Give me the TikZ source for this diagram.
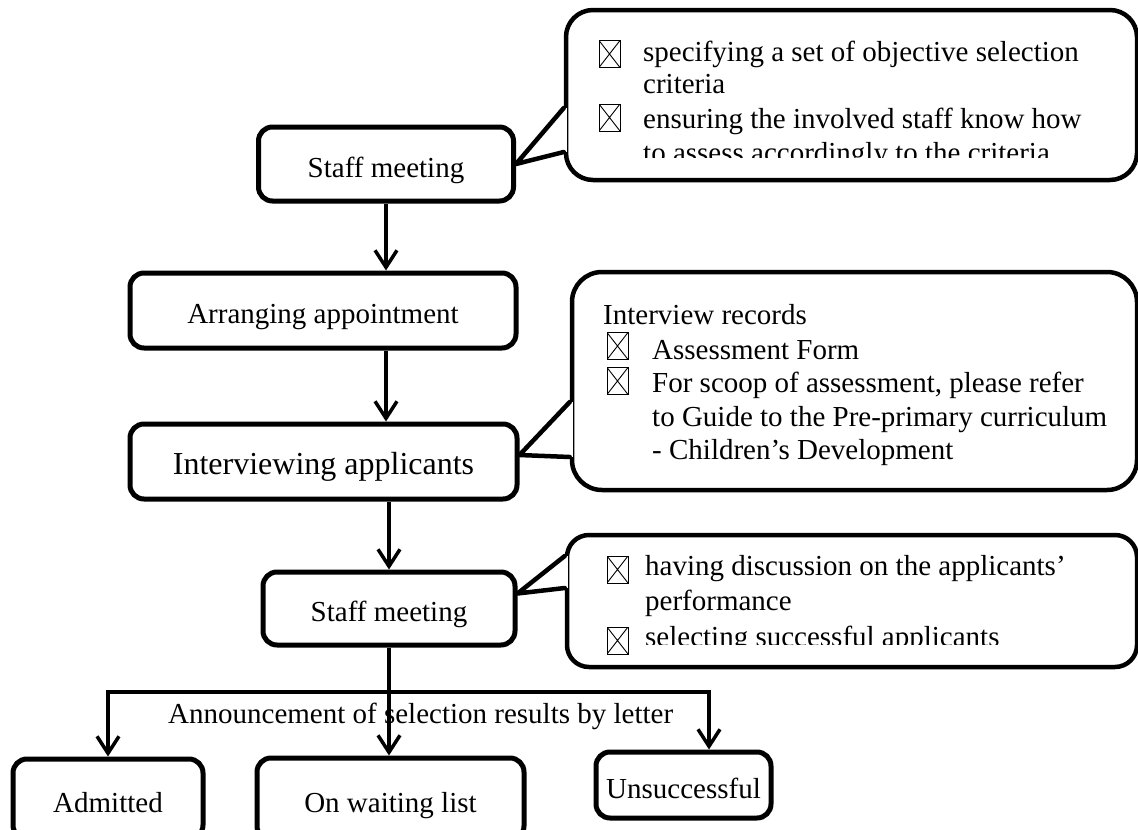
\documentclass[tikz,border=0pt]{standalone}
\usepackage{fontspec}
\setmainfont{Liberation Serif}
\usetikzlibrary{arrows.meta}
\begin{document}
\begin{tikzpicture}[x=1pt,y=-1pt,
  flowbox/.style={draw, line width=5pt, rounded corners=14pt, inner sep=0pt,
    font=\fontsize{29pt}{34pt}\selectfont, text height=26pt, text depth=0pt},
  callout/.style={draw, line width=4.5pt, rounded corners=#1, inner sep=0pt, fill=white},
  ptr/.style={line width=4.5pt, line cap=round, line join=round},
  conn/.style={line width=3.5pt, -{Straight Barb[length=17pt,width=22pt]}},
  plainline/.style={line width=3.5pt},
  txt/.style={anchor=base west, inner sep=0pt, font=\fontsize{29pt}{34pt}\selectfont},
  chk/.style={draw, line width=1pt, minimum width=21pt, minimum height=27pt, inner sep=0pt,
    path picture={\draw[line width=0.9pt]
      (path picture bounding box.north west) -- (path picture bounding box.south east)
      (path picture bounding box.south west) -- (path picture bounding box.north east);}}
]
\clip (0,0) rectangle (1138,830);
\fill[white] (0,0) rectangle (1138,830);

% flow boxes
\node[flowbox, minimum width=255pt, minimum height=74pt] (sm1) at (386,164) {Staff meeting};
\node[flowbox, minimum width=386pt, minimum height=75pt] (arr) at (323,310.5) {Arranging appointment};
\node[flowbox, minimum width=387pt, minimum height=75pt, font=\fontsize{32pt}{38pt}\selectfont] (intv) at (323.5,461.5) {Interviewing applicants};
\node[flowbox, minimum width=252pt, minimum height=73pt] (sm2) at (389,608.5) {Staff meeting};
\node[flowbox, minimum width=190pt, minimum height=80pt] (adm) at (108,799) {Admitted};
\node[flowbox, minimum width=267pt, minimum height=82pt] (wait) at (390.5,799) {On waiting list};
\node[flowbox, minimum width=175pt, minimum height=66pt] (uns) at (683.5,785) {Unsuccessful};

% callouts
\node[callout=27pt, minimum width=571pt, minimum height=170pt] (c1) at (851.5,95) {};
\node[callout=30pt, minimum width=565pt, minimum height=218pt] (c2) at (854.5,381) {};
\node[callout=22pt, minimum width=570pt, minimum height=132pt] (c3) at (852,601) {};

% pointers
\coordinate (u1) at (c1.west |- 0,108);
\coordinate (l1) at (c1.west |- 0,152);
\fill[white] ([xshift=-3pt]u1) rectangle ([xshift=3pt]l1);
\fill[white] (u1) -- (sm1.east) -- (l1) -- cycle;
\draw[ptr] (u1) -- (sm1.east) -- (l1);

\coordinate (u2) at (c2.west |- 0,402);
\coordinate (l2) at (c2.west |- 0,457);
\coordinate (t2) at ([yshift=6.5pt]intv.east);
\fill[white] ([xshift=-3pt]u2) rectangle ([xshift=3pt]l2);
\fill[white] (u2) -- (t2) -- (l2) -- cycle;
\draw[ptr] (u2) -- (t2) -- (l2);

\coordinate (u3) at (c3.west |- 0,556);
\coordinate (l3) at (c3.west |- 0,588);
\coordinate (t3) at ([yshift=15pt]sm2.east);
\fill[white] ([xshift=-3pt]u3) rectangle ([xshift=3pt]l3);
\fill[white] (u3) -- (t3) -- (l3) -- cycle;
\draw[ptr] (u3) -- (t3) -- (l3);

% callout 1 contents
\node[chk] (cb1) at (609.5,54) {};
\node[chk] (cb2) at (609.5,117.5) {};
\node[txt] (a1) at (643,61) {specifying a set of objective selection};
\node[txt] (a2) at (643,93) {criteria};
\node[txt] (a3) at (643,128) {ensuring the involved staff know how};
\begin{scope}
  \clip (560,0) rectangle (1130,157);
  \node[txt] (a4) at (643,162) {to assess accordingly to the criteria};
\end{scope}

% callout 2 contents
\node[txt] (b0) at (603,324) {Interview records};
\node[chk] (cb3) at (617.5,346) {};
\node[chk] (cb4) at (617.5,381) {};
\node[txt] (b1) at (652,359) {Assessment Form};
\node[txt] (b2) at (652,392) {For scoop of assessment, please refer};
\node[txt] (b3) at (652,426) {to Guide to the Pre-primary curriculum};
\node[txt] (b4) at (652,459) {- Children’s Development};

% callout 3 contents
\node[chk] (cb5) at (617.5,569.5) {};
\node[chk] (cb6) at (617.5,640.5) {};
\node[txt] (d1) at (645,575) {having discussion on the applicants’};
\node[txt] (d2) at (645,610) {performance};
\begin{scope}
  \clip (560,540) rectangle (1130,644);
  \node[txt] (d3) at (645,646) {selecting successful applicants};
\end{scope}

% announcement label
\node[txt] (ann) at (168,723) {Announcement of selection results by letter};

% connectors
\draw[conn] (sm1.south) -- (sm1.south |- arr.north);
\draw[conn] (sm1.south |- arr.south) -- (sm1.south |- intv.north);
\draw[conn] (sm2.north |- intv.south) -- (sm2.north);
\draw[conn] (sm2.south) -- (sm2.south |- wait.north);
\coordinate (j) at (sm2.south |- 0,692);
\draw[conn] (j) -| (adm.north);
\draw[conn] (j) -| ([xshift=25.5pt]uns.north);
\end{tikzpicture}
\end{document}
